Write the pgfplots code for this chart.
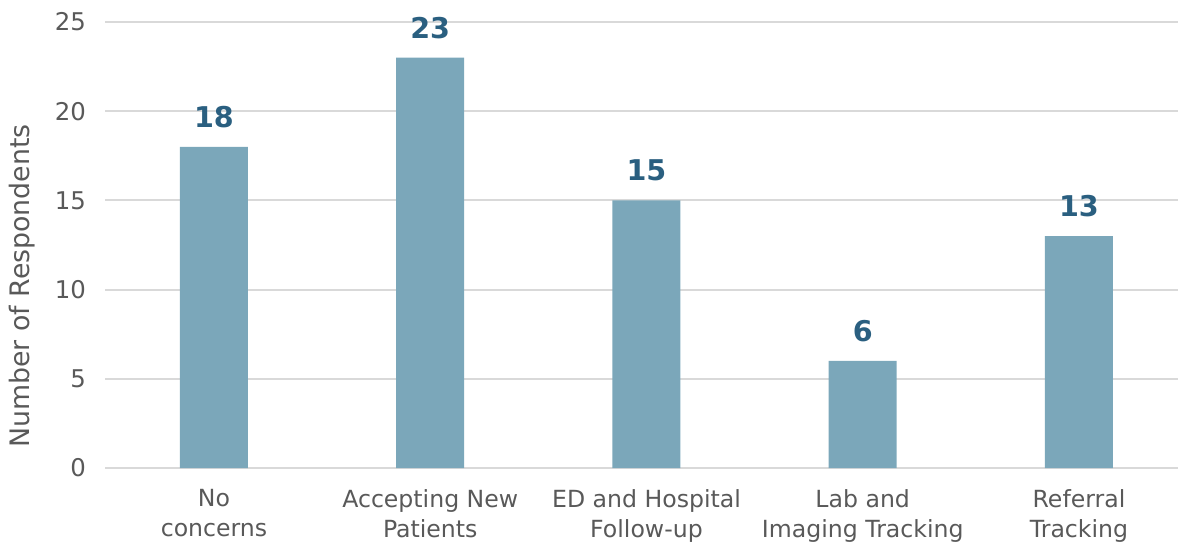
\documentclass[border=0pt]{standalone}
\usepackage{pgfplots}
\pgfplotsset{compat=1.18}
\usepackage{fontspec}
\setmainfont{DejaVu Sans}
\definecolor{barc}{HTML}{7BA7BA}
\definecolor{labc}{HTML}{2A5F80}
\definecolor{txtc}{HTML}{595959}
\definecolor{gridc}{HTML}{D9D9D9}
\begin{document}
\begin{tikzpicture}
\begin{axis}[
  scale only axis,
  width=536.5pt, height=223pt,
  xmin=-0.504, xmax=4.458,
  ymin=0, ymax=25,
  ytick={0,5,10,15,20,25},
  xtick=data,
  xticklabels={{No\\concerns},{Accepting New\\Patients},{ED and Hospital\\Follow-up},{Lab and\\Imaging Tracking},{Referral\\Tracking}},
  xticklabel style={align=center, font=\fontsize{11.8}{15}\selectfont, text=txtc, yshift=-3pt},
  yticklabel style={font=\fontsize{12.2}{14}\selectfont, text=txtc, xshift=-6pt},
  /pgf/number format/assume math mode=true,
  axis line style={draw=none},
  major tick style={draw=none},
  ymajorgrids,
  grid style={gridc, line width=1pt},
  ylabel={Number of Respondents},
  ylabel style={font=\fontsize{13.4}{15}\selectfont, text=txtc},
  every axis y label/.append style={at={(ticklabel cs:0.5)}, xshift=-20.5pt, yshift=3pt},
  ybar, bar width=34pt,
  nodes near coords,
  nodes near coords style={font=\bfseries\fontsize{14.3}{16}\selectfont, text=labc, yshift=6pt},
  clip=false,
]
\addplot[fill=barc, draw=none] coordinates {(0,18) (1,23) (2,15) (3,6) (4,13)};
\end{axis}
\pgfresetboundingbox
\useasboundingbox ([xshift=-52.5pt,yshift=-37pt]current axis.south west) rectangle ([yshift=11pt]current axis.north east);
\end{tikzpicture}
\end{document}
